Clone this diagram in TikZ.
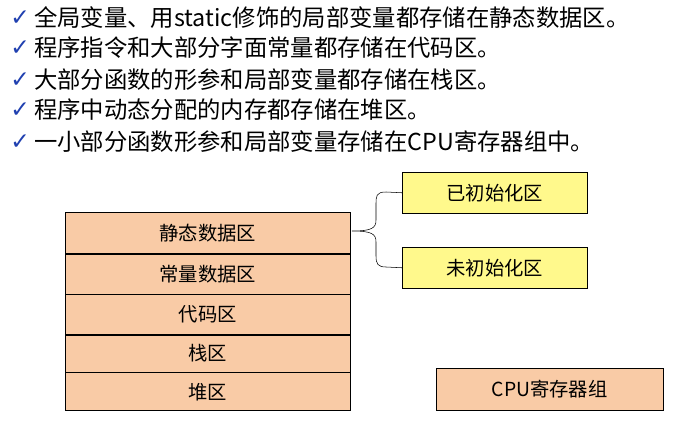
\documentclass[tikz,border=0pt]{standalone}
\usepackage{fontspec}
\setmainfont{Noto Sans CJK SC}
\newfontfamily\dvfont{DejaVu Sans}
\begin{document}
\begin{tikzpicture}[x=0.75pt,y=-0.75pt,
  row/.style={draw,fill=stack,minimum width=214pt,minimum height=#1,inner sep=0pt,font=\fontsize{14.5}{16}\selectfont},
  ybox/.style={draw,fill=yellow!45,minimum width=138.75pt,minimum height=30.75pt,inner sep=0pt,font=\fontsize{14.5}{16}\selectfont},
  bl/.style={anchor=west,inner sep=0pt,font=\fontsize{17.5}{18}\selectfont}]
\definecolor{stack}{HTML}{F9CBA6}
\definecolor{chk}{HTML}{2040B0}
\useasboundingbox (0,0) rectangle (690,429);
\foreach \y/\t [count=\i] in {18/全局变量、用static修饰的局部变量都存储在静态数据区。,48/程序指令和大部分字面常量都存储在代码区。,80/大部分函数的形参和局部变量都存储在栈区。,110/程序中动态分配的内存都存储在堆区。,142/一小部分函数形参和局部变量存储在CPU寄存器组中。}{
  \node[bl,text=chk] (c\i) at (10,\y) {\dvfont\bfseries ✓};
  \node[bl] (t\i) at (34,\y) {\t};
}
\node[row=30.75pt,anchor=north west] (r1) at (65,212) {静态数据区};
\node[row=30pt,anchor=north] (r2) at (r1.south) {常量数据区};
\node[row=30pt,anchor=north] (r3) at (r2.south) {代码区};
\node[row=28pt,anchor=north] (r4) at (r3.south) {栈区};
\node[row=28.5pt,anchor=north] (r5) at (r4.south) {堆区};
\node[ybox,anchor=north west] (a) at (402,172) {已初始化区};
\node[ybox,anchor=north west] (b) at (402,247) {未初始化区};
\node[draw,fill=stack,minimum width=170pt,minimum height=31.5pt,inner sep=0pt,anchor=north west,font=\fontsize{14.5}{16}\selectfont] (cpu) at (436,368) {CPU寄存器组};
\coordinate (m) at (352,231);
\draw (a.west) -- (386,192) .. controls (376,192) and (376,196) .. (376,205)
  -- (376,220) .. controls (376,228) and (372,231) .. (m)
  .. controls (372,231) and (376,234) .. (376,242) -- (376,256)
  .. controls (376,264) and (378,267) .. (386,267) -- (b.west);
\end{tikzpicture}
\end{document}
